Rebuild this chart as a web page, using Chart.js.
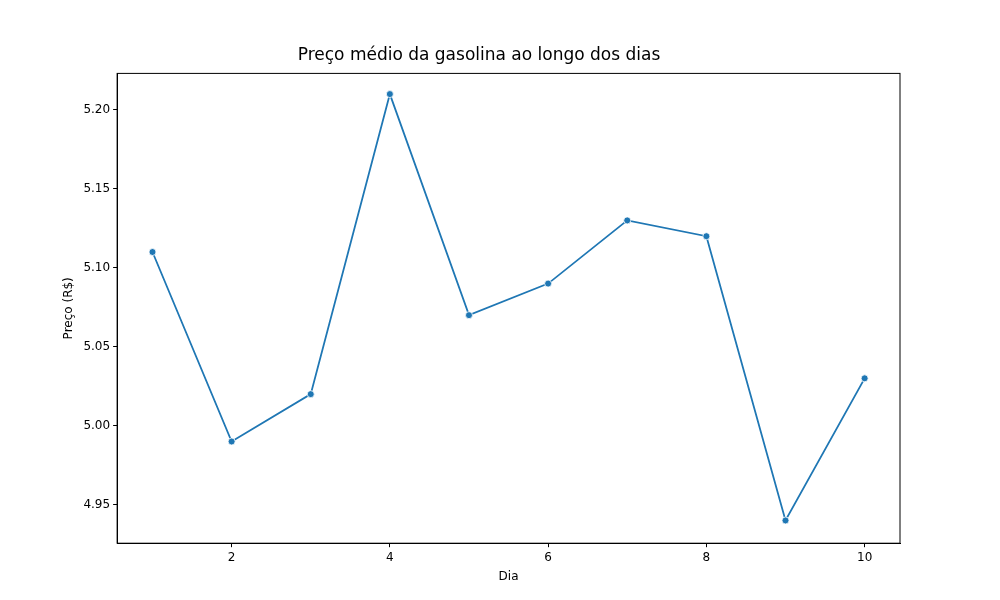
<!DOCTYPE html>
<html>
<head>
<meta charset="utf-8">
<script src="https://cdn.jsdelivr.net/npm/chart.js@4"></script>
<style>
  body { margin: 0; background: #fff; }
  #wrap { width: 1000px; height: 600px; }
</style>
</head>
<body>
<div id="wrap"><canvas id="priceChart"></canvas></div>
<script>
const days = [1, 2, 3, 4, 5, 6, 7, 8, 9, 10];
const prices = [5.11, 4.99, 5.02, 5.21, 5.07, 5.09, 5.13, 5.12, 4.94, 5.03];
const xTicks = [2, 4, 6, 8, 10];
const yTicks = [4.95, 5.00, 5.05, 5.10, 5.15, 5.20];

const font = { family: 'DejaVu Sans', size: 12 };
const ctx = document.getElementById('priceChart').getContext('2d');

new Chart(ctx, {
    type: 'line',
    data: {
        datasets: [{
            data: days.map((d, i) => ({ x: d, y: prices[i] })),
            borderColor: '#1f77b4',
            backgroundColor: '#1f77b4',
            borderWidth: 1.8,
            pointRadius: 3.5,
            pointBorderColor: '#ffffff',
            pointBorderWidth: 0.8,
            tension: 0,
        }],
    },
    options: {
        responsive: true,
        maintainAspectRatio: false,
        animation: false,
        layout: { padding: { top: 45, right: 100, bottom: 14, left: 58 } },
        plugins: {
            legend: { display: false },
            tooltip: { enabled: false },
            title: {
                display: true,
                text: 'Preço médio da gasolina ao longo dos dias',
                color: '#000',
                font: { family: 'DejaVu Sans', size: 17, weight: 'normal' },
                padding: { top: 0, bottom: 8 },
            },
        },
        scales: {
            x: {
                type: 'linear',
                min: 0.553,
                max: 10.447,
                afterBuildTicks: axis => { axis.ticks = xTicks.map(v => ({ value: v })); },
                grid: { drawOnChartArea: false, tickLength: 4, tickColor: '#000' },
                border: { color: '#000' },
                ticks: { color: '#000', font, callback: v => v },
                title: { display: true, text: 'Dia', color: '#000', font, padding: 2 },
            },
            y: {
                min: 4.9256,
                max: 5.2231,
                afterBuildTicks: axis => { axis.ticks = yTicks.map(v => ({ value: v })); },
                grid: { drawOnChartArea: false, tickLength: 4, tickColor: '#000' },
                border: { color: '#000' },
                ticks: { color: '#000', font, callback: v => v.toFixed(2) },
                title: { display: true, text: 'Preço (R$)', color: '#000', font, padding: 4 },
            },
        },
    },
    plugins: [{
        id: 'frame',
        afterDraw(chart) {
            const a = chart.chartArea, c = chart.ctx;
            c.save();
            c.strokeStyle = '#000';
            c.lineWidth = 1;
            c.strokeRect(a.left, a.top, a.right - a.left, a.bottom - a.top);
            c.restore();
        },
    }],
});
</script>
</body>
</html>
